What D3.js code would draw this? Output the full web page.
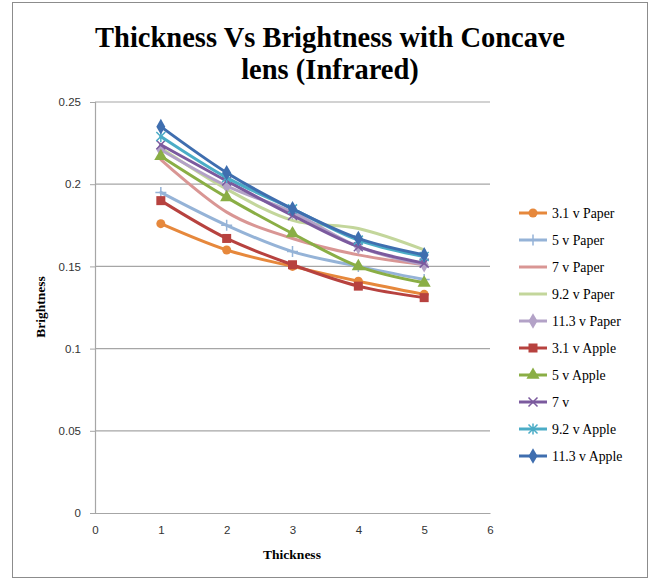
<!DOCTYPE html>
<html><head><meta charset="utf-8">
<script src="https://cdn.jsdelivr.net/npm/d3@7"></script>
<style>body{margin:0;background:#fff}</style>
</head><body>
<svg id="c" width="650" height="580"></svg>
<script>
const thickness = [1, 2, 3, 4, 5];
const seriesNames = ["3.1 v Paper","5 v Paper","7 v Paper","9.2 v Paper","11.3 v Paper","3.1 v Apple","5 v Apple","7 v","9.2 v Apple","11.3 v Apple"];
const paper31 = [0.176, 0.160, 0.150, 0.141, 0.133];
const paper5  = [0.195, 0.175, 0.159, 0.150, 0.142];
const paper7  = [0.215, 0.183, 0.167, 0.157, 0.151];
const paper92 = [0.222, 0.197, 0.178, 0.173, 0.160];
const paper113= [0.221, 0.199, 0.183, 0.162, 0.151];
const apple31 = [0.190, 0.167, 0.151, 0.138, 0.131];
const apple5  = [0.217, 0.192, 0.170, 0.150, 0.140];
const apple7  = [0.224, 0.202, 0.181, 0.162, 0.152];
const apple92 = [0.229, 0.204, 0.185, 0.166, 0.156];
const apple113= [0.235, 0.207, 0.185, 0.167, 0.157];
const seriesValues = [paper31, paper5, paper7, paper92, paper113, apple31, apple5, apple7, apple92, apple113];
const colors = ["#E6883C","#95B3D7","#D99694","#C3D69B","#B3A2C7","#B7423F","#8AAE45","#7B5A9E","#4BACC6","#3F6EAF"];
const markers = ["circle","plus","none","none","diamond","square","triangle","cross","asterisk","diamond"];
const xTicks = [0,1,2,3,4,5,6];
const yTicks = [0,0.05,0.1,0.15,0.2,0.25];

const svg = d3.select("#c");
svg.append("rect").attr("x",12.5).attr("y",2.5).attr("width",635).attr("height",575)
  .attr("fill","#fff").attr("stroke","#8c8c8c");

const L=95, R=490, T=102, B=513;
const x = d3.scaleLinear().domain([0,6]).range([L,R]);
const y = d3.scaleLinear().domain([0,0.25]).range([B,T]);

svg.append("g").selectAll("line").data(yTicks.filter(d=>d>0)).join("line")
  .attr("x1",L).attr("x2",R).attr("y1",d=>y(d)).attr("y2",d=>y(d))
  .attr("stroke","#a6a6a6").attr("stroke-width",1.2);

const ya = svg.append("g").attr("transform",`translate(${L},0)`)
  .call(d3.axisLeft(y).tickValues(yTicks).tickSize(5).tickPadding(9).tickFormat(d=>String(d)));
ya.select(".domain").attr("stroke","#a6a6a6").attr("stroke-width",1.2);
ya.selectAll(".tick line").attr("stroke","#a6a6a6");
ya.selectAll("text").attr("font-family","Liberation Sans, Arial").attr("font-size",11.5).attr("fill","#333");

const xa = svg.append("g").attr("transform",`translate(0,${B})`)
  .call(d3.axisBottom(x).tickValues(xTicks).tickSize(0).tickPadding(13).tickFormat(d3.format("d")));
xa.select(".domain").attr("stroke","#a6a6a6").attr("stroke-width",1.2);
xa.selectAll("text").attr("font-family","Liberation Sans, Arial").attr("font-size",11.5).attr("fill","#333");

const title = svg.append("text").attr("text-anchor","middle")
  .attr("font-family","Liberation Serif, serif").attr("font-weight","bold").attr("font-size",28.5).attr("fill","#000");
title.append("tspan").attr("x",330).attr("y",47).text("Thickness Vs Brightness with Concave");
title.append("tspan").attr("x",330).attr("y",79).text("lens (Infrared)");

svg.append("text").attr("x",292).attr("y",559).attr("text-anchor","middle")
  .attr("font-family","Liberation Serif, serif").attr("font-weight","bold").attr("font-size",13.5).text("Thickness");
svg.append("text").attr("transform","translate(45,307) rotate(-90)").attr("text-anchor","middle")
  .attr("font-family","Liberation Serif, serif").attr("font-weight","bold").attr("font-size",13.5).text("Brightness");

function drawMarker(g, type, color){
  const s = 4.5;
  if(type==="circle") g.append("circle").attr("r",s).attr("fill",color);
  else if(type==="square") g.append("rect").attr("x",-s).attr("y",-s).attr("width",2*s).attr("height",2*s).attr("fill",color);
  else if(type==="diamond") g.append("path").attr("d",d3.symbol(d3.symbolDiamond,70)()).attr("fill",color);
  else if(type==="triangle") g.append("path").attr("d",d3.symbol(d3.symbolTriangle,75)()).attr("fill",color);
  else if(type==="plus") g.append("path").attr("d",`M${-s-1},0H${s+1}M0,${-s-1}V${s+1}`).attr("stroke",color).attr("stroke-width",1.5);
  else if(type==="cross") g.append("path").attr("d",`M${-s},${-s}L${s},${s}M${-s},${s}L${s},${-s}`).attr("stroke",color).attr("stroke-width",1.5);
  else if(type==="asterisk") g.append("path").attr("d",`M${-s},${-s}L${s},${s}M${-s},${s}L${s},${-s}M0,${-s-1}V${s+1}`).attr("stroke",color).attr("stroke-width",1.5);
}

const line = d3.line().x((d,i)=>x(thickness[i])).y(d=>y(d)).curve(d3.curveCatmullRom.alpha(0));
const plot = svg.append("g");
seriesValues.forEach((vals,k)=>{
  plot.append("path").attr("d",line(vals)).attr("fill","none").attr("stroke",colors[k])
    .attr("stroke-width",3).attr("stroke-linejoin","round").attr("stroke-linecap","round");
  vals.forEach((v,i)=>{
    const g = plot.append("g").attr("transform",`translate(${x(thickness[i])},${y(v)})`);
    drawMarker(g, markers[k], colors[k]);
  });
});

const lg = svg.append("g");
seriesNames.forEach((n,k)=>{
  const yy = 213 + k*27;
  lg.append("line").attr("x1",519).attr("x2",547).attr("y1",yy).attr("y2",yy).attr("stroke",colors[k]).attr("stroke-width",3);
  const g = lg.append("g").attr("transform",`translate(533,${yy})`);
  drawMarker(g, markers[k], colors[k]);
  lg.append("text").attr("x",552).attr("y",yy+4.5).attr("font-family","Liberation Serif, serif").attr("font-size",13.8).attr("fill","#000").text(n);
});
</script>
</body></html>
